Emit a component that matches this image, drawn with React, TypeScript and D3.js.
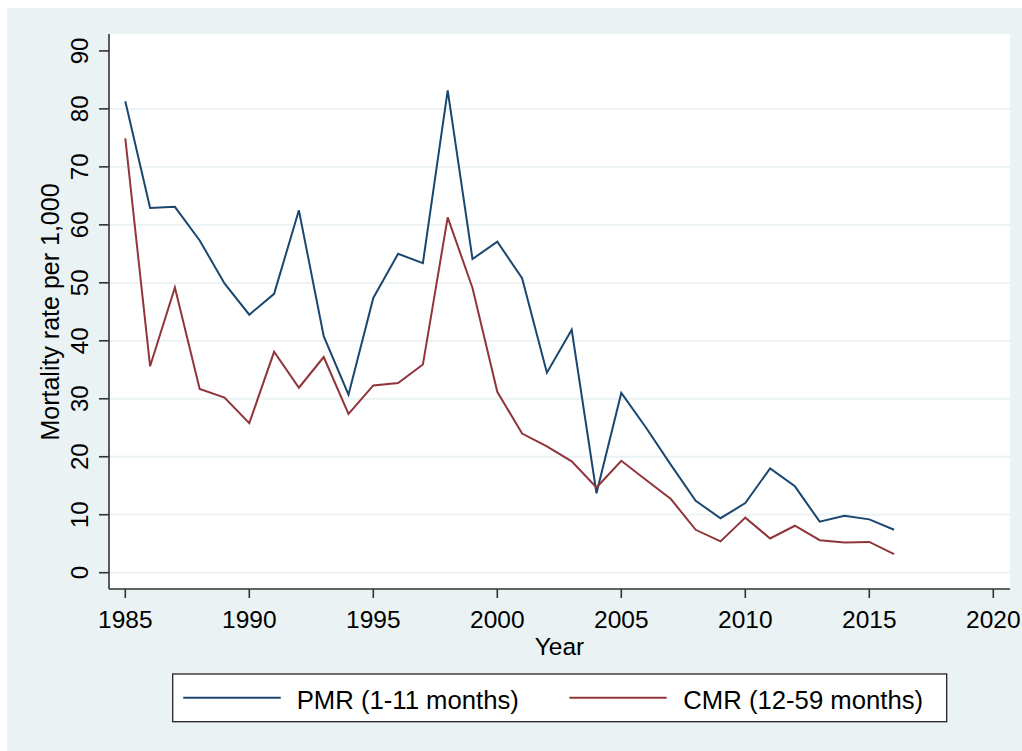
import React from "react";
import * as d3 from "d3";

const years: number[] = [
  1985, 1986, 1987, 1988, 1989, 1990, 1991, 1992, 1993, 1994, 1995, 1996,
  1997, 1998, 1999, 2000, 2001, 2002, 2003, 2004, 2005, 2006, 2007, 2008,
  2009, 2010, 2011, 2012, 2013, 2014, 2015, 2016,
];

const pmr: number[] = [
  81.3, 62.9, 63.1, 57.3, 49.9, 44.5, 48.1, 62.5, 40.8, 30.7, 47.4, 55.0,
  53.4, 83.2, 54.1, 57.1, 50.8, 34.5, 41.9, 13.7, 31.0, 25.0, 18.6, 12.4,
  9.4, 12.0, 18.0, 14.9, 8.8, 9.8, 9.2, 7.4,
];

const cmr: number[] = [
  74.9, 35.6, 49.2, 31.7, 30.2, 25.8, 38.1, 31.9, 37.2, 27.4, 32.3, 32.7,
  35.9, 61.3, 49.1, 31.2, 24.0, 21.8, 19.2, 14.7, 19.3, 16.0, 12.7, 7.4,
  5.4, 9.5, 5.9, 8.1, 5.6, 5.2, 5.3, 3.2,
];

const xTicks: number[] = [1985, 1990, 1995, 2000, 2005, 2010, 2015, 2020];
const yTicks: number[] = [0, 10, 20, 30, 40, 50, 60, 70, 80, 90];
const yGrid: number[] = [0, 10, 20, 30, 40, 50, 60, 70, 80];

const seriesNames: string[] = ["PMR (1-11 months)", "CMR (12-59 months)"];
const seriesColors: string[] = ["#1a476f", "#90353b"];

const BG = "#eaf2f3";
const FONT = "'Liberation Sans', Arial, sans-serif";

export default function App() {
  const plotLeft = 109;
  const plotRight = 1010;
  const plotTop = 34;
  const plotBottom = 589;

  const x = d3.scaleLinear().domain([1985, 2020]).range([125.3, 993.3]);
  const y = d3.scaleLinear().domain([0, 90]).range([572.7, 50.9]);

  const line = d3
    .line<number>()
    .x((_, i) => x(years[i]))
    .y((d) => y(d));

  const series = [pmr, cmr];

  const legendItems = [
    { lx1: 183.3, lx2: 280.7, tx: 296.7 },
    { lx1: 569.3, lx2: 666.7, tx: 683.3 },
  ];

  return (
    <svg
      width={1022}
      height={751}
      style={{ position: "absolute", left: 0, top: 0, display: "block" }}
    >
      <rect x={0} y={0} width={1022} height={751} fill="#ffffff" />
      <rect x={7} y={8} width={1015} height={743} fill={BG} />
      <rect
        x={plotLeft}
        y={plotTop}
        width={plotRight - plotLeft}
        height={plotBottom - plotTop}
        fill="#ffffff"
      />
      {yGrid.map((t) => (
        <line
          key={"g" + t}
          x1={plotLeft}
          x2={plotRight}
          y1={y(t)}
          y2={y(t)}
          stroke={BG}
          strokeWidth={1.8}
        />
      ))}
      {series.map((s, i) => (
        <path
          key={"s" + i}
          d={line(s) || ""}
          fill="none"
          stroke={seriesColors[i]}
          strokeWidth={2}
          strokeLinejoin="miter"
        />
      ))}
      <line
        x1={plotLeft}
        x2={plotLeft}
        y1={plotTop}
        y2={plotBottom}
        stroke="#333333"
        strokeWidth={1.6}
      />
      <line
        x1={plotLeft}
        x2={plotRight}
        y1={plotBottom}
        y2={plotBottom}
        stroke="#333333"
        strokeWidth={1.6}
      />
      {yTicks.map((t) => (
        <g key={"yt" + t}>
          <line
            x1={99}
            x2={plotLeft}
            y1={y(t)}
            y2={y(t)}
            stroke="#333333"
            strokeWidth={1.6}
          />
          <text
            transform={`translate(88,${y(t)}) rotate(-90)`}
            textAnchor="middle"
            fontFamily={FONT}
            fontSize={24}
            fill="#000"
          >
            {t}
          </text>
        </g>
      ))}
      {xTicks.map((t) => (
        <g key={"xt" + t}>
          <line
            x1={x(t)}
            x2={x(t)}
            y1={plotBottom}
            y2={598}
            stroke="#333333"
            strokeWidth={1.6}
          />
          <text
            x={x(t)}
            y={628}
            textAnchor="middle"
            fontFamily={FONT}
            fontSize={24.5}
            fill="#000"
          >
            {t}
          </text>
        </g>
      ))}
      <text
        transform={`translate(59,312) rotate(-90)`}
        textAnchor="middle"
        fontFamily={FONT}
        fontSize={25}
        fill="#000"
      >
        Mortality rate per 1,000
      </text>
      <text
        x={559.5}
        y={655}
        textAnchor="middle"
        fontFamily={FONT}
        fontSize={24.5}
        fill="#000"
      >
        Year
      </text>
      <rect
        x={172.7}
        y={674}
        width={774}
        height={47.7}
        fill="#ffffff"
        stroke="#222222"
        strokeWidth={1.3}
      />
      {legendItems.map((it, i) => (
        <g key={"l" + i}>
          <line
            x1={it.lx1}
            x2={it.lx2}
            y1={697.7}
            y2={697.7}
            stroke={seriesColors[i]}
            strokeWidth={2}
          />
          <text
            x={it.tx}
            y={708.5}
            fontFamily={FONT}
            fontSize={25.7}
            fill="#000"
          >
            {seriesNames[i]}
          </text>
        </g>
      ))}
    </svg>
  );
}
